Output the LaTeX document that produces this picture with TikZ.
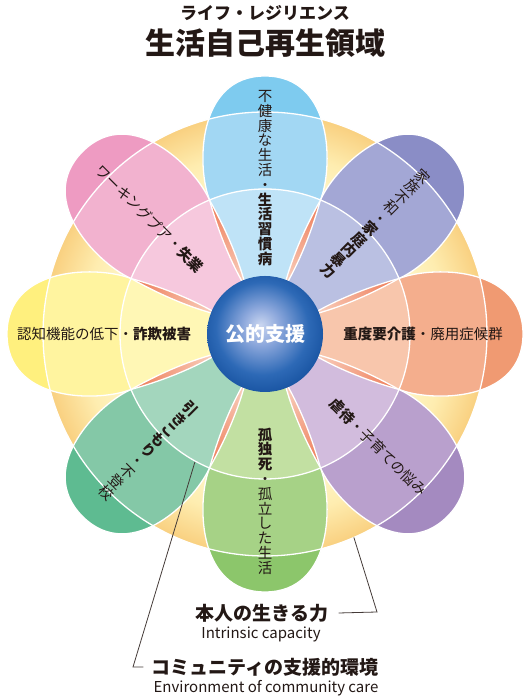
\documentclass[tikz,border=0pt]{standalone}
\usepackage{fontspec}
\setmainfont{Noto Sans CJK JP}
\usetikzlibrary{positioning}

\definecolor{ink}{HTML}{231815}
\definecolor{blueO}{HTML}{7ECBEF}\definecolor{blueM}{HTML}{A2D7F3}\definecolor{blueI}{HTML}{BFE3F7}
\definecolor{indO}{HTML}{8A8DC6}\definecolor{indM}{HTML}{A3A7D5}\definecolor{indI}{HTML}{BAC0E2}
\definecolor{salO}{HTML}{F09A72}\definecolor{salM}{HTML}{F4AE8D}\definecolor{salI}{HTML}{F8C6AC}
\definecolor{lavO}{HTML}{A48AC0}\definecolor{lavM}{HTML}{B9A0CD}\definecolor{lavI}{HTML}{D2BCDD}
\definecolor{grnO}{HTML}{8CC66B}\definecolor{grnM}{HTML}{A6D286}\definecolor{grnI}{HTML}{C2E0A2}
\definecolor{tealO}{HTML}{5EBB91}\definecolor{tealM}{HTML}{84C8A7}\definecolor{tealI}{HTML}{A3D6BD}
\definecolor{yelO}{HTML}{FFF07E}\definecolor{yelM}{HTML}{FFF49F}\definecolor{yelI}{HTML}{FFF7B5}
\definecolor{pinkO}{HTML}{EE9BC2}\definecolor{pinkM}{HTML}{F2B2CF}\definecolor{pinkI}{HTML}{F6C8DD}
\definecolor{ringA}{HTML}{FFF7CC}\definecolor{ringB}{HTML}{FEEDB0}\definecolor{ringC}{HTML}{F9D080}
\definecolor{corA}{HTML}{F9D3C2}\definecolor{corB}{HTML}{EE7853}
\definecolor{sphA}{HTML}{CAD6F0}\definecolor{sphB}{HTML}{8DA8DC}\definecolor{sphC}{HTML}{2D69B6}\definecolor{sphD}{HTML}{15509E}

\pgfdeclareradialshading{ringsh}{\pgfpointorigin}{color(0bp)=(ringA); color(16bp)=(ringA); color(20.5bp)=(ringB); color(25bp)=(ringC); color(50bp)=(ringC)}
\pgfdeclareradialshading{corsh}{\pgfpointorigin}{color(0bp)=(corA); color(9bp)=(corA); color(25bp)=(corB); color(50bp)=(corB)}
\pgfdeclareradialshading{sphsh}{\pgfpoint{-2bp}{4bp}}{color(0bp)=(sphA); color(8bp)=(sphB); color(20bp)=(sphC); color(29bp)=(sphD); color(50bp)=(sphD)}

\newcommand\petalpath{(50,-20) .. controls (80,-28) and (110,-42) .. (133,-55) .. controls (163,-68) and (258,-70) .. (258,0) .. controls (258,70) and (163,68) .. (133,55) .. controls (110,42) and (80,28) .. (50,20) -- cycle}

\begin{document}
\begin{tikzpicture}[
  x=1pt, y=1pt,
  petalline/.style={draw=white, line width=1.3pt},
  ringline/.style={draw=white, line width=1.3pt},
  ptxt/.style={inner sep=0pt, text=ink, align=center, font=\fontsize{14.5}{14.8}\selectfont},
  hub/.style={circle, shade, shading=sphsh, minimum size=116pt, inner sep=0pt, text=white,
              font=\bfseries\fontsize{20}{24}\selectfont},
  ttl/.style={inner sep=0pt, text=ink, font=\bfseries\fontsize{17}{20}\selectfont},
  caplbl/.style={inner sep=0pt, text=ink, font=\bfseries\fontsize{19}{22}\selectfont},
  sublbl/.style={inner sep=0pt, text=ink, font=\fontsize{15}{18}\selectfont},
  lead/.style={draw=ink!85, line width=0.8pt}
]
\useasboundingbox (0,0) rectangle (531,700);

\begin{scope}[shift={(265,366)}]
\shade[shading=ringsh] (0,0) circle (222);
\shade[shading=corsh] (0,0) circle (145);
\foreach \a/\cin/\cmid/\cout in {90/blueI/blueM/blueO, 45/indI/indM/indO, 0/salI/salM/salO,
    -45/lavI/lavM/lavO, -90/grnI/grnM/grnO, -135/tealI/tealM/tealO, 180/yelI/yelM/yelO, 135/pinkI/pinkM/pinkO}{
  \begin{scope}[rotate=\a]
    \begin{scope}
      \clip \petalpath;
      \fill[\cout] (0,0) circle (270);
      \fill[\cmid] (0,0) circle (222);
      \fill[\cin] (0,0) circle (145);
    \end{scope}
    \draw[petalline] \petalpath;
  \end{scope}
}
\draw[ringline] (0,0) circle (145);
\draw[ringline] (0,0) circle (222);

\node[hub] (hubC) at (0,0) {公的支援};

\node[ptxt] (tHealth) at (90:156) {不\\健\\康\\な\\生\\活\\・\\\textbf{生}\\\textbf{活}\\\textbf{習}\\\textbf{慣}\\\textbf{病}};
\node[ptxt, rotate=-45] (tFamily) at (45:156) {家\\族\\不\\和\\・\\\textbf{家}\\\textbf{庭}\\\textbf{内}\\\textbf{暴}\\\textbf{力}};
\node[ptxt] (tCare) at (0:158) {\textbf{重度要介護}・廃用症候群};
\node[ptxt, rotate=-45] (tAbuse) at (-45:160) {\textbf{虐待}・子育ての悩み};
\node[ptxt] (tAlone) at (-90:167) {\textbf{孤}\\\textbf{独}\\\textbf{死}\\・\\孤\\立\\し\\た\\生\\活};
\node[ptxt, rotate=-45] (tRecluse) at (-135:165) {\textbf{引}\\\textbf{き}\\\textbf{こ}\\\textbf{も}\\\textbf{り}\\・\\不\\登\\校};
\node[ptxt] (tCognit) at (180:161) {認知機能の低下・\textbf{詐欺被害}};
\node[ptxt, rotate=-45] (tWork) at (135:163) {ワーキングプア・\textbf{失業}};

\coordinate (capPt) at (-66.4:222);
\coordinate (envPt) at (-118.7:146);
\end{scope}

\node[ttl] (ttlKana) at (265,687) {ライフ・レジリエンス};
\node[ttl, font=\bfseries\fontsize{30}{34}\selectfont] (ttlMain) at (265,657) {生活自己再生領域};

\node[caplbl] (capJa) at (262,87) {本人の生きる力};
\node[sublbl] (capEn) at (261,66) {Intrinsic capacity};
\node[caplbl] (envJa) at (265,33) {コミュニティの支援的環境};
\node[sublbl] (envEn) at (266,12) {Environment of community care};

\coordinate (capBend) at (377,88);
\coordinate (envBend) at (133,33);
\draw[lead] ([xshift=10pt]capJa.east) -- (capBend) -- (capPt);
\draw[lead] ([xshift=-8pt]envJa.west) -- (envBend) -- (envPt);
\end{tikzpicture}
\end{document}
